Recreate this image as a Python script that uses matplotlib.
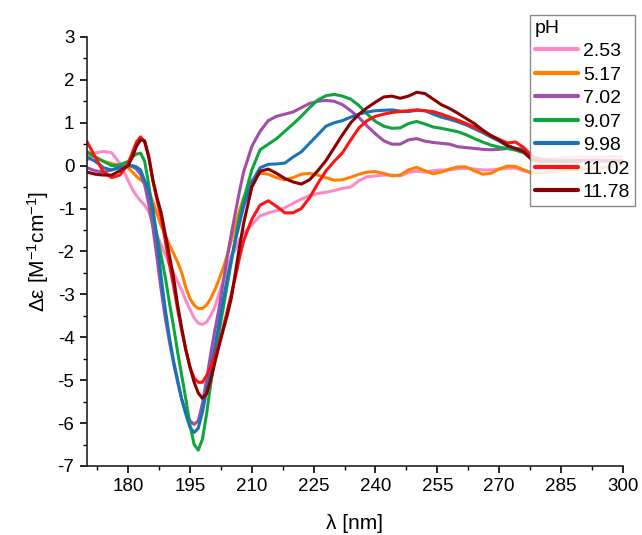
import numpy as np
import matplotlib
matplotlib.use("Agg")
import matplotlib.pyplot as plt
from matplotlib.ticker import MultipleLocator

plt.rcParams["font.family"] = ["Liberation Sans", "DejaVu Sans"]
plt.rcParams["axes.unicode_minus"] = False
plt.rcParams["mathtext.fontset"] = "custom"
plt.rcParams["mathtext.rm"] = "Liberation Sans"
plt.rcParams["mathtext.it"] = "Liberation Sans:italic"

# wavelength grid (nm)
wl = [170, 172, 174, 176, 178,
      180, 181, 182, 183, 184, 185, 186, 187, 188, 189, 190,
      191, 192, 193, 194, 195, 196, 197, 198, 199, 200, 201, 202, 203, 204,
      205, 206, 207, 208,
      210, 212, 214, 216, 218, 220, 222, 224, 226, 228, 230, 232, 234, 236,
      238, 240, 242, 244, 246, 248, 250, 252, 254, 256, 258, 260, 262, 264,
      266, 268, 270, 272, 274, 276, 278, 280,
      285, 290, 295, 300]

ph_labels = ["2.53", "5.17", "7.02", "9.07", "9.98", "11.02", "11.78"]
colors = ["#FF88C6", "#FF8000", "#A04EA6", "#0FA53C", "#1874B8", "#FF1414", "#8B0000"]

ph_2_53 = [0.12, 0.30, 0.33, 0.30, 0.05,
           -0.35, -0.55, -0.70, -0.82, -0.92, -1.08, -1.35, -1.62, -1.85, -2.08, -2.30,
           -2.50, -2.70, -2.90, -3.15, -3.35, -3.55, -3.67, -3.70, -3.65, -3.50, -3.30, -3.00, -2.70, -2.40,
           -2.10, -1.95, -1.72, -1.58,
           -1.38, -1.17, -1.10, -1.05, -0.98, -0.88, -0.78, -0.70, -0.65, -0.62, -0.58, -0.53, -0.50, -0.35,
           -0.26, -0.24, -0.22, -0.22, -0.24, -0.16, -0.13, -0.15, -0.12, -0.10, -0.10, -0.07, -0.06, -0.08,
           -0.10, -0.10, -0.08, -0.06, -0.06, -0.12, -0.15, 0.10,
           0.18, 0.20, 0.20, 0.22]

ph_5_17 = [0.28, 0.20, 0.10, 0.05, 0.00,
           -0.05, -0.15, -0.25, -0.33, -0.40, -0.58, -0.85, -1.12, -1.40, -1.62, -1.85,
           -2.05, -2.25, -2.50, -2.85, -3.10, -3.25, -3.33, -3.33, -3.25, -3.10, -2.90, -2.66, -2.40, -2.10,
           -1.75, -1.40, -1.05, -0.75,
           -0.35, -0.18, -0.20, -0.28, -0.33, -0.28, -0.20, -0.18, -0.22, -0.28, -0.34, -0.33, -0.27, -0.20,
           -0.15, -0.14, -0.18, -0.24, -0.22, -0.10, -0.04, -0.12, -0.19, -0.15, -0.08, -0.03, -0.03, -0.12,
           -0.20, -0.18, -0.08, -0.01, -0.02, -0.10, -0.18, -0.17,
           -0.12, -0.08, -0.05, 0.00]

ph_7_02 = [-0.05, -0.12, -0.15, -0.10, -0.02,
           0.00, -0.02, -0.08, -0.20, -0.45, -0.90, -1.45, -2.15, -2.90, -3.55, -4.10,
           -4.60, -5.05, -5.45, -5.75, -5.95, -6.03, -5.95, -5.55, -5.00, -4.40, -3.85, -3.35, -2.75, -2.15,
           -1.60, -1.10, -0.60, -0.15,
           0.45, 0.80, 1.05, 1.15, 1.20, 1.25, 1.35, 1.45, 1.50, 1.52, 1.50, 1.42, 1.28, 1.12,
           0.92, 0.74, 0.58, 0.50, 0.50, 0.60, 0.63, 0.57, 0.54, 0.52, 0.50, 0.44, 0.42, 0.40,
           0.38, 0.37, 0.38, 0.40, 0.40, 0.38, 0.22, 0.15,
           0.12, 0.10, 0.12, 0.10]

ph_9_07 = [0.33, 0.20, 0.10, 0.00, 0.02,
           0.10, 0.20, 0.27, 0.29, 0.10, -0.45, -1.15, -1.65, -2.10, -2.60, -3.20,
           -3.75, -4.35, -4.90, -5.45, -6.05, -6.50, -6.63, -6.38, -5.80, -5.10, -4.50, -3.90, -3.35, -2.80,
           -2.25, -1.70, -1.20, -0.80,
           -0.10, 0.37, 0.50, 0.63, 0.80, 0.97, 1.15, 1.35, 1.53, 1.63, 1.66, 1.62, 1.55, 1.40,
           1.20, 1.03, 0.92, 0.87, 0.88, 0.98, 1.03, 0.97, 0.90, 0.87, 0.83, 0.79, 0.72, 0.63,
           0.55, 0.48, 0.43, 0.40, 0.36, 0.30, 0.15, 0.12,
           0.10, 0.12, 0.10, 0.12]

ph_9_98 = [0.20, 0.10, -0.05, -0.10, -0.05,
           0.00, 0.00, -0.03, -0.10, -0.35, -0.60, -1.00, -1.70, -2.60, -3.35, -4.00,
           -4.55, -5.00, -5.45, -5.80, -6.10, -6.22, -6.12, -5.75, -5.25, -4.75, -4.25, -3.70, -3.15, -2.65,
           -2.20, -1.75, -1.35, -0.95,
           -0.38, -0.05, 0.03, 0.04, 0.06, 0.20, 0.32, 0.52, 0.72, 0.92, 1.00, 1.05, 1.13, 1.20,
           1.25, 1.28, 1.29, 1.30, 1.27, 1.26, 1.29, 1.28, 1.20, 1.13, 1.08, 1.02, 0.95, 0.86,
           0.77, 0.67, 0.57, 0.46, 0.40, 0.36, 0.22, 0.15,
           0.12, 0.12, 0.12, 0.10]

ph_11_02 = [0.56, 0.20, -0.15, -0.28, -0.22,
            0.05, 0.30, 0.55, 0.67, 0.55, 0.20, -0.35, -0.80, -1.20, -1.75, -2.30,
            -2.80, -3.35, -3.85, -4.30, -4.70, -4.95, -5.05, -5.05, -4.90, -4.70, -4.45, -4.15, -3.80, -3.40,
            -3.00, -2.60, -2.15, -1.75,
            -1.25, -0.92, -0.82, -0.95, -1.10, -1.10, -1.00, -0.75, -0.42, -0.12, 0.10, 0.30, 0.60, 0.88,
            1.05, 1.15, 1.20, 1.24, 1.26, 1.28, 1.30, 1.28, 1.26, 1.20, 1.13, 1.06, 0.98, 0.90,
            0.80, 0.70, 0.61, 0.53, 0.55, 0.42, 0.22, 0.15,
            0.12, 0.12, 0.12, 0.12]

ph_11_78 = [-0.15, -0.20, -0.22, -0.22, -0.12,
            0.00, 0.20, 0.45, 0.60, 0.58, 0.20, -0.35, -0.75, -1.10, -1.60, -2.10,
            -2.60, -3.25, -3.80, -4.30, -4.70, -5.05, -5.30, -5.42, -5.32, -5.00, -4.60, -4.22, -3.85, -3.50,
            -3.10, -2.50, -1.90, -1.35,
            -0.50, -0.13, -0.08, -0.18, -0.30, -0.38, -0.43, -0.33, -0.12, 0.12, 0.42, 0.72, 1.00, 1.20,
            1.35, 1.48, 1.60, 1.62, 1.57, 1.62, 1.71, 1.68, 1.55, 1.42, 1.33, 1.22, 1.10, 0.98,
            0.83, 0.70, 0.60, 0.47, 0.40, 0.32, 0.13, 0.10,
            0.10, 0.12, 0.12, 0.10]

series = [ph_2_53, ph_5_17, ph_7_02, ph_9_07, ph_9_98, ph_11_02, ph_11_78]

fig = plt.figure(figsize=(6.42, 5.35), dpi=100)
ax = fig.add_axes([0.1355, 0.129, 0.8345, 0.802])

for vals, lab, col in zip(series, ph_labels, colors):
    ax.plot(wl, vals, color=col, linewidth=2.2, label=lab,
            solid_capstyle="round", solid_joinstyle="round")

ax.set_xlim(170, 300)
ax.set_ylim(-7, 3)
ax.set_xticks([180, 195, 210, 225, 240, 255, 270, 285, 300])
ax.xaxis.set_minor_locator(MultipleLocator(7.5))
ax.yaxis.set_major_locator(MultipleLocator(1))
ax.yaxis.set_minor_locator(MultipleLocator(0.5))

for side in ["top", "right"]:
    ax.spines[side].set_visible(False)
for side in ["left", "bottom"]:
    ax.spines[side].set_linewidth(1.2)
    ax.spines[side].set_color("#222222")

ax.tick_params(which="major", direction="out", length=5, width=1.2, labelsize=13.5, pad=4)
ax.tick_params(which="minor", direction="out", length=3, width=1.0)

ax.set_xlabel(r"λ [nm]", fontsize=15, labelpad=13)
ax.set_ylabel(r"Δε [M$^{-1}$cm$^{-1}$]", fontsize=15, labelpad=5)

leg = ax.legend(title="pH", loc="upper right",
                bbox_to_anchor=(635 / 642, 1 - 15 / 535), bbox_transform=fig.transFigure,
                fontsize=14, title_fontsize=14, frameon=True, fancybox=False,
                framealpha=0.85, edgecolor="#777777", handlelength=2.2,
                handletextpad=0.25, labelspacing=0.3, borderpad=0.25,
                borderaxespad=0.0)
leg._legend_box.align = "left"
leg.get_frame().set_linewidth(1.0)
for line in leg.get_lines():
    line.set_linewidth(3)

fig.savefig("out.png", dpi=100)
